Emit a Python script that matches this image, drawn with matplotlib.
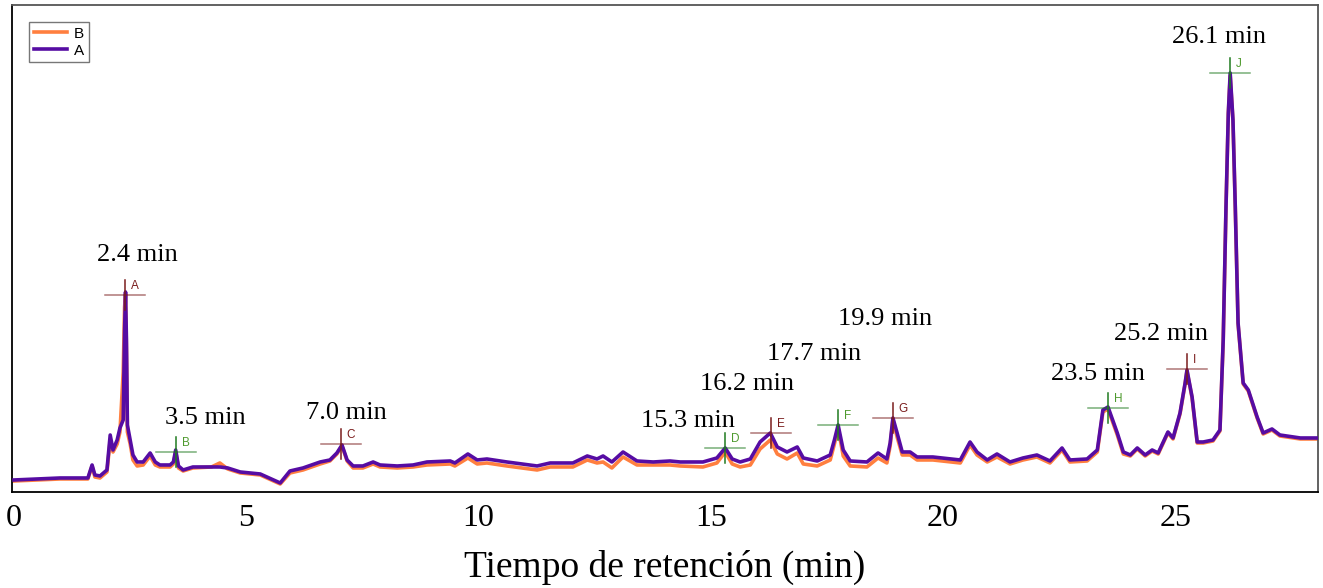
import matplotlib
matplotlib.use("Agg")
import matplotlib.pyplot as plt

# retention time (min) and detector response (arbitrary units)
time_min = [
    0.00, 0.99, 1.59, 1.68, 1.74, 1.85, 2.00, 2.07, 2.13, 2.22, 2.28, 2.35,
    2.38, 2.40, 2.42, 2.44, 2.50, 2.56, 2.65, 2.78, 2.93, 3.04, 3.14, 3.36,
    3.43, 3.48, 3.51, 3.54, 3.64, 3.85, 4.25, 4.43, 4.60, 4.87, 5.30, 5.73,
    5.94, 6.22, 6.59, 6.80, 6.95, 7.06, 7.17, 7.30, 7.51, 7.73, 7.88, 8.25,
    8.59, 8.89, 9.39, 9.49, 9.77, 9.97, 10.18, 10.61, 11.26, 11.54, 12.03,
    12.34, 12.55, 12.68, 12.87, 13.11, 13.41, 13.76, 14.12, 14.34, 14.83,
    15.13, 15.31, 15.46, 15.63, 15.85, 16.06, 16.28, 16.43, 16.64, 16.86,
    16.99, 17.29, 17.57, 17.66, 17.74, 17.85, 18.00, 18.36, 18.60, 18.79,
    18.86, 18.92, 19.01, 19.12, 19.29, 19.44, 19.78, 20.37, 20.58, 20.73,
    20.95, 21.16, 21.44, 21.72, 22.02, 22.30, 22.56, 22.73, 23.10, 23.32,
    23.44, 23.55, 23.75, 23.88, 24.03, 24.18, 24.35, 24.50, 24.63, 24.84,
    24.95, 25.10, 25.21, 25.25, 25.36, 25.47, 25.60, 25.81, 25.96, 26.03,
    26.09, 26.14, 26.18, 26.24, 26.29, 26.35, 26.46, 26.57, 26.76, 26.89,
    27.08, 27.25, 27.69, 28.05,
]

signal_a = [
    12, 14, 14, 27, 17, 16, 22, 57, 42, 52, 64, 72,
    162, 200, 152, 67, 52, 37, 30, 30, 39, 30, 27, 27,
    30, 42, 34, 26, 22, 25, 25, 25, 24, 20, 18, 9,
    21, 24, 30, 32, 39, 47, 32, 26, 26, 30, 27, 26,
    27, 30, 31, 29, 38, 32, 33, 30, 26, 29, 29,
    36, 33, 36, 30, 40, 31, 30, 31, 30, 30,
    34, 44, 33, 30, 33, 50, 59, 45, 40, 45,
    34, 31, 37, 52, 67, 42, 31, 30, 39, 33,
    49, 74, 59, 40, 40, 35, 35, 32, 50, 40,
    32, 38, 30, 34, 37, 31, 44, 32, 33, 42,
    82, 85, 59, 40, 37, 44, 37, 42, 39, 60,
    54, 79, 109, 122, 95, 50, 50, 52, 62, 152,
    285, 379, 419, 372, 285, 169, 109, 102, 75, 59,
    63, 57, 54, 54,
]

signal_b = [
    11, 13, 13, 26, 15, 14, 20, 52, 40, 48, 60, 120,
    185, 198, 140, 60, 48, 32, 26, 27, 36, 27, 25, 25,
    28, 40, 32, 24, 21, 24, 25, 29, 23, 19, 17, 8,
    19, 22, 28, 31, 38, 46, 31, 24, 24, 28, 25, 24,
    25, 27, 28, 26, 34, 28, 29, 26, 22, 25, 25,
    32, 29, 30, 24, 35, 27, 27, 27, 26, 25,
    29, 40, 28, 25, 27, 43, 52, 38, 33, 39,
    28, 26, 32, 48, 64, 36, 26, 25, 34, 29,
    46, 72, 55, 37, 37, 32, 32, 29, 47, 37,
    30, 35, 28, 32, 35, 29, 42, 30, 31, 40,
    80, 83, 57, 38, 36, 43, 36, 41, 38, 59,
    53, 78, 108, 121, 94, 49, 49, 51, 61, 151,
    284, 378, 416, 371, 284, 168, 108, 101, 74, 58,
    62, 56, 53, 53,
]

# integrated peaks
peak_names = ["A", "B", "C", "D", "E", "F", "G", "H", "I", "J"]
peak_time = [2.39, 3.49, 7.04, 15.31, 16.30, 17.74, 18.92, 23.55, 25.25, 26.18]
peak_height = [197, 40, 48, 44, 59, 67, 74, 84, 123, 419]

# retention time labels and where they sit
rt_labels = ["2.4 min", "3.5 min", "7.0 min", "15.3 min", "16.2 min",
             "17.7 min", "19.9 min", "23.5 min", "25.2 min", "26.1 min"]
rt_label_x = [2.65, 4.11, 7.15, 14.51, 15.78, 17.22, 18.75, 23.34, 24.69, 25.94]
rt_label_y = [237, 74, 79, 71, 108, 138, 173, 118, 158, 455]

x_ticks = [0, 5, 10, 15, 20, 25]

ORANGE = "#ff7f3f"
PURPLE = "#560ca3"
RED = "#7a1c1c"
GREEN = "#1f7a1f"
SERIF = ["Liberation Serif", "DejaVu Serif"]

fig = plt.figure(figsize=(13.23, 5.88), dpi=100)
ax = fig.add_axes([0.0091, 0.1633, 0.9871, 0.8282])

ax.plot(time_min, signal_b, color=ORANGE, lw=2.6, label="B",
        solid_joinstyle="round", zorder=2)
ax.plot(time_min, signal_a, color=PURPLE, lw=2.6, label="A",
        solid_joinstyle="round", zorder=3)

half_w = 0.43
half_h = 15
for i, name in enumerate(peak_names):
    col = RED if i % 2 == 0 else GREEN
    txt_col = RED if i % 2 == 0 else "#4e9a2e"
    t, h = peak_time[i], peak_height[i]
    ax.plot([t - half_w, t + half_w], [h, h], color=col, lw=1.1,
            alpha=0.6, zorder=4)
    ax.plot([t, t], [h - half_h, h + half_h], color=col, lw=1.1, zorder=4)
    ax.text(t + 0.12, h + 3, name, color=txt_col, fontsize=8.5,
            family="Liberation Sans", ha="left", va="bottom", zorder=5)

for lab, lx, ly in zip(rt_labels, rt_label_x, rt_label_y):
    ax.text(lx, ly, lab, fontsize=19, family=SERIF, ha="center",
            va="center", color="black")

ax.set_xlim(-0.043, 28.07)
ax.set_ylim(0, 487)
ax.set_yticks([])
ax.set_xticks(x_ticks)
ax.set_xticklabels([str(v) for v in x_ticks], fontsize=23, family=SERIF)
ax.tick_params(axis="x", length=0, pad=9)
ax.set_xlabel("Tiempo de retención (min)", fontsize=27, family=SERIF,
              labelpad=12)

for side in ("top", "right"):
    ax.spines[side].set_color("#555555")
for side in ("left", "bottom"):
    ax.spines[side].set_color("black")
for sp in ax.spines.values():
    sp.set_linewidth(1.3)

leg = ax.legend(loc="upper left", bbox_to_anchor=(0.013, 0.965),
                fontsize=11, frameon=True, fancybox=False,
                handlelength=2.2, handletextpad=0.45, borderpad=0.3,
                labelspacing=0.2, borderaxespad=0)
leg.get_frame().set_edgecolor("#555555")
leg.get_frame().set_linewidth(1.0)
for txt in leg.get_texts():
    txt.set_family("Liberation Sans")

fig.savefig("out.png", dpi=100)
